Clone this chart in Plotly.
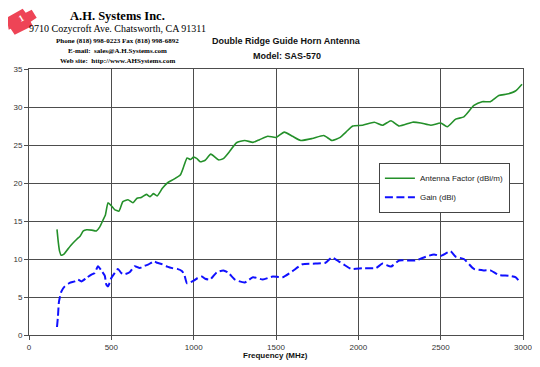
import plotly.graph_objects as go

# ---------------- data ----------------
af_freq = [170, 178, 186, 195, 210, 236, 263, 290, 310, 330, 350, 380, 409, 429, 449, 464, 480,
           500, 520, 546, 570, 601, 631, 656, 682, 713, 735, 755, 778, 810, 840, 880, 920, 940,
           960, 980, 1000, 1020, 1040, 1070, 1104, 1150, 1180, 1220, 1260, 1310, 1360, 1400,
           1450, 1500, 1550, 1600, 1650, 1720, 1790, 1840, 1890, 1925, 1966, 2026, 2097, 2147,
           2198, 2248, 2329, 2379, 2440, 2500, 2540, 2591, 2641, 2702, 2752, 2802, 2853, 2903,
           2954, 2994]
af_vals = [13.9, 12.2, 11.0, 10.5, 10.6, 11.3, 12.0, 12.6, 13.0, 13.7, 13.85, 13.8, 13.7, 14.2,
           15.1, 15.8, 17.4, 17.0, 16.5, 16.3, 17.55, 17.8, 17.4, 18.0, 18.1, 18.5, 18.2, 18.6,
           18.3, 19.3, 20.0, 20.5, 21.1, 22.2, 23.3, 23.1, 23.4, 23.2, 22.8, 23.0, 23.8, 23.05,
           23.2, 24.2, 25.3, 25.6, 25.35, 25.7, 26.15, 26.0, 26.7, 26.15, 25.6, 25.85, 26.25,
           25.6, 26.0, 26.7, 27.5, 27.6, 28.0, 27.6, 28.2, 27.5, 28.0, 27.9, 27.6, 27.9, 27.4,
           28.4, 28.7, 30.2, 30.7, 30.7, 31.5, 31.7, 32.1, 33.0]

gain_freq = [170, 176, 182, 197, 217, 247, 277, 297, 318, 348, 379, 399, 419, 439, 460, 470, 480,
             500, 520, 540, 561, 581, 611, 642, 672, 702, 723, 759, 779, 810, 840, 870, 900, 930,
             945, 960, 1000, 1024, 1050, 1070, 1100, 1140, 1180, 1210, 1250, 1310, 1360, 1420,
             1480, 1540, 1600, 1660, 1740, 1800, 1840, 1880, 1910, 1956, 2026, 2107, 2147, 2198,
             2248, 2349, 2409, 2460, 2500, 2560, 2591, 2641, 2702, 2762, 2802, 2853, 2913, 2954,
             2974]
gain_vals = [1.05, 2.5, 4.4, 5.75, 6.4, 6.85, 7.05, 7.3, 7.05, 7.5, 7.95, 8.15, 9.05, 8.5, 7.8,
             6.6, 6.4, 7.5, 8.15, 8.7, 8.15, 8.0, 8.25, 9.05, 8.8, 9.1, 9.25, 9.7, 9.5, 9.3, 9.0,
             8.8, 8.7, 8.4, 7.8, 6.8, 7.15, 7.5, 7.7, 7.4, 7.3, 8.25, 8.5, 8.2, 7.3, 6.9, 7.6,
             7.3, 7.7, 7.6, 8.4, 9.3, 9.4, 9.5, 10.2, 9.7, 9.3, 8.7, 8.8, 8.8, 9.4, 9.0, 9.8,
             9.8, 10.3, 10.6, 10.4, 11.0, 10.3, 10.0, 8.7, 8.5, 8.5, 7.9, 7.8, 7.6, 7.15]

x_ticks = [0, 500, 1000, 1500, 2000, 2500, 3000]
y_ticks = [0, 5, 10, 15, 20, 25, 30, 35]

# ---------------- layout helpers ----------------
# The page body has an 8px margin, so the figure is drawn 8px in from the window edge.
OFF = 8
W, H = 540 - OFF, 367 - OFF
# plot area in window (screenshot) pixels
SX0, SX1, SY0, SY1 = 29.3, 523.0, 69.3, 335.0
L = SX0 - OFF
R = W - (SX1 - OFF)
T = SY0 - OFF
B = H - (SY1 - OFF)


def px(x):  # window pixel -> paper
    return (x - SX0) / (SX1 - SX0)


def py(y):
    return (SY1 - y) / (SY1 - SY0)


SANS = "Arial, Liberation Sans, sans-serif"
SERIF = "Times New Roman, Liberation Serif, serif"

fig = go.Figure()
fig.add_trace(go.Scatter(
    x=af_freq, y=af_vals, mode="lines", name="Antenna Factor (dBi/m)",
    line=dict(color="#24902a", width=1.6, shape="spline", smoothing=0.5)))
fig.add_trace(go.Scatter(
    x=gain_freq, y=gain_vals, mode="lines", name="Gain (dBi)",
    line=dict(color="#1010ff", width=2, dash="8px,3.5px", shape="spline", smoothing=0.5)))

axis_common = dict(
    showgrid=True, gridcolor="#4d4d4d", gridwidth=1,
    showline=True, linecolor="#4d4d4d", linewidth=1, mirror=True,
    ticks="outside", ticklen=4, tickcolor="#4d4d4d",
    tickfont=dict(family=SANS, size=8, color="#333333"),
    zeroline=False, fixedrange=True, automargin=False,
)
fig.update_xaxes(range=[0, 3000], tickvals=x_ticks, **axis_common)
fig.update_yaxes(range=[0, 35], tickvals=y_ticks, **axis_common)

ann = []
# chart title
ann.append(dict(text="<b>Double Ridge Guide Horn Antenna</b>", x=px(287), y=py(41),
                font=dict(family=SANS, size=9, color="#111")))
ann.append(dict(text="<b>Model: SAS-570</b>", x=px(287), y=py(56),
                font=dict(family=SANS, size=9, color="#111")))
# company header
ann.append(dict(text="<b>A.H. Systems Inc.</b>", x=px(118), y=py(16),
                font=dict(family=SERIF, size=12.5, color="#000")))
ann.append(dict(text="9710 Cozycroft Ave. Chatsworth, CA 91311", x=px(118), y=py(29),
                font=dict(family=SERIF, size=10, color="#000")))
ann.append(dict(text="<b>Phone (818) 998-0223 Fax (818) 998-6892</b>", x=px(118), y=py(41.5),
                font=dict(family=SERIF, size=7, color="#000")))
ann.append(dict(text="<b>E-mail:  sales@A.H.Systems.com</b>", x=px(118), y=py(51),
                font=dict(family=SERIF, size=7, color="#000")))
ann.append(dict(text="<b>Web site:  http://www.AHSystems.com</b>", x=px(118), y=py(61),
                font=dict(family=SERIF, size=7, color="#000")))
# x-axis title
ann.append(dict(text="<b>Frequency (MHz)</b>", x=px(276), y=py(355),
                font=dict(family=SANS, size=8, color="#111")))
# logo glyph
ann.append(dict(text="<b>1</b>", x=px(22), y=py(18.5), textangle=-30,
                font=dict(family=SERIF, size=9, color="#ffffff")))

for a in ann:
    a.update(xref="paper", yref="paper", showarrow=False, xanchor="center", yanchor="middle")

# logo shape (rotated red tag), kept inside the drawable page area
logo_pts = [(7, 18), (23, 9), (26, 13), (32, 10), (37, 18), (31, 22), (33, 26), (15, 35), (11, 29), (9, 30)]
path = "M " + " L ".join(f"{px(x):.4f},{py(y):.4f}" for x, y in logo_pts) + " Z"

fig.update_layout(
    template="none",
    width=W, height=H, autosize=False,
    margin=dict(l=L, r=R, t=T, b=B, pad=0),
    paper_bgcolor="white", plot_bgcolor="white",
    annotations=ann,
    shapes=[dict(type="path", path=path, xref="paper", yref="paper",
                 fillcolor="#ee4456", line=dict(width=0), layer="above")],
    showlegend=True,
    legend=dict(x=px(379), y=py(163), xanchor="left", yanchor="top",
                bgcolor="white", bordercolor="#444444", borderwidth=1,
                font=dict(family=SANS, size=8, color="#222"),
                traceorder="normal", itemwidth=30),
)

fig.write_html("out.html")
